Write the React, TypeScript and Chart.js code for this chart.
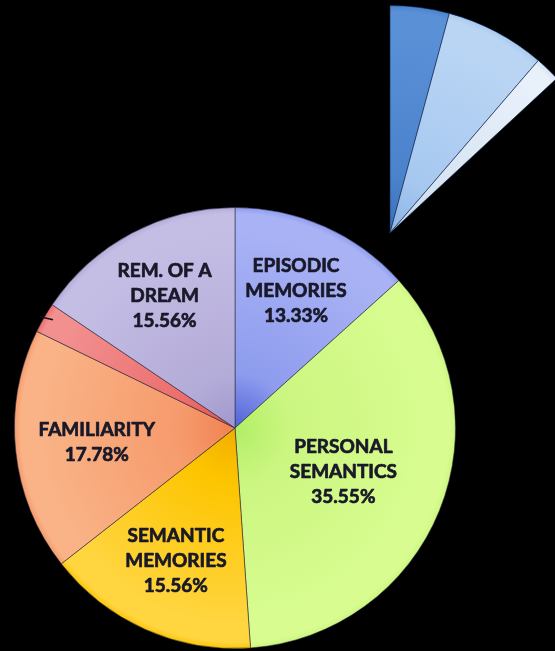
import React, { useEffect, useRef } from "react";
import { Chart, registerables } from "chart.js";

Chart.register(...registerables);

// ---- data ----
const categories = [
  "EPISODIC MEMORIES",
  "PERSONAL SEMANTICS",
  "SEMANTIC MEMORIES",
  "FAMILIARITY",
  "OTHER",
  "REM. OF A DREAM",
];
const shares = [13.33, 35.55, 15.56, 17.78, 2.22, 15.56];
const labelLines = [
  ["EPISODIC", "MEMORIES"],
  ["PERSONAL", "SEMANTICS"],
  ["SEMANTIC", "MEMORIES"],
  ["FAMILIARITY"],
  [],
  ["REM. OF A", "DREAM"],
];

const wedgeCategories = ["A", "B", "C", "REST"];
const wedgeShares = [4.2, 7.1, 1.8, 86.9];

// ---- styles ----
const mainPalette: string[][] = [
  ["#5062d8", "#8e9cee", "#a8b2f4"],
  ["#b2ee66", "#cbf680", "#d8fc90"],
  ["#f2ae00", "#fdc500", "#ffd540"],
  ["#f08250", "#f69a6c", "#f9b386"],
  ["#e25050", "#ec6c6c", "#f29090"],
  ["#a098cc", "#b4acd8", "#c4bde4"],
];
const wedgePalette: (string[] | null)[] = [
  ["#3a70ba", "#4a82cc", "#5a90d6"],
  ["#8db4e6", "#a6c8f0", "#bad5f4"],
  ["#bccfe8", "#d6e3f3", "#e8f0fa"],
  null,
];
const labelRadius = [0.68, 0.53, 0.66, 0.63, 0.65, 0.68];

function gradientFor(palette: (string[] | null)[]) {
  return (ctx: any) => {
    const chart = ctx.chart;
    const stops = palette[ctx.dataIndex];
    if (!stops) return "rgba(0,0,0,0)";
    const area = chart.chartArea;
    if (!area) return stops[1];
    const cx = (area.left + area.right) / 2;
    const cy = (area.top + area.bottom) / 2;
    const r = Math.min(area.right - area.left, area.bottom - area.top) / 2;
    const g = chart.ctx.createRadialGradient(cx, cy, 0, cx, cy, r);
    g.addColorStop(0, stops[0]);
    g.addColorStop(0.25, stops[1]);
    g.addColorStop(0.88, stops[2]);
    g.addColorStop(0.97, stops[2]);
    g.addColorStop(1, stops[1]);
    return g;
  };
}

const labelPlugin = {
  id: "sliceLabels",
  afterDatasetsDraw(chart: any) {
    const ctx = chart.ctx;
    const meta = chart.getDatasetMeta(0);
    ctx.save();
    ctx.font = "bold 19px Lato, 'DejaVu Sans', sans-serif";
    ctx.fillStyle = "#181828";
    ctx.strokeStyle = "#181828";
    ctx.lineWidth = 0.7;
    ctx.lineJoin = "round";
    ctx.textAlign = "center";
    ctx.textBaseline = "middle";
    meta.data.forEach((arc: any, i: number) => {
      const lines = labelLines[i];
      const mid = (arc.startAngle + arc.endAngle) / 2;
      if (!lines || lines.length === 0) {
        // leader tick at rim
        const rx = arc.x + Math.cos(mid) * arc.outerRadius;
        const ry = arc.y + Math.sin(mid) * arc.outerRadius;
        ctx.save();
        ctx.strokeStyle = "#111";
        ctx.lineWidth = 1.5;
        ctx.beginPath();
        ctx.moveTo(rx - 4, ry - 1);
        ctx.lineTo(rx + 9, ry + 2);
        ctx.stroke();
        ctx.restore();
        return;
      }
      const all = [...lines, shares[i].toFixed(2) + "%"];
      const fr = labelRadius[i];
      const px = arc.x + Math.cos(mid) * arc.outerRadius * fr;
      const py = arc.y + Math.sin(mid) * arc.outerRadius * fr;
      const lh = 25;
      const top = py - ((all.length - 1) * lh) / 2;
      all.forEach((t, k) => {
        ctx.strokeText(t, px, top + k * lh);
        ctx.fillText(t, px, top + k * lh);
      });
    });
    ctx.restore();
  },
};

function PieCanvas(props: {
  left: number;
  top: number;
  size: number;
  build: (c: HTMLCanvasElement) => Chart;
}) {
  const ref = useRef<HTMLCanvasElement | null>(null);
  useEffect(() => {
    if (!ref.current) return;
    const chart = props.build(ref.current);
    return () => chart.destroy();
  }, []);
  return (
    <div
      style={{
        position: "absolute",
        left: props.left,
        top: props.top,
        width: props.size,
        height: props.size,
      }}
    >
      <canvas
        ref={ref}
        width={props.size}
        height={props.size}
        style={{ width: props.size, height: props.size, display: "block" }}
      />
    </div>
  );
}

const commonOptions: any = {
  responsive: false,
  maintainAspectRatio: false,
  animation: false,
  events: [],
  layout: { padding: 0 },
  plugins: { legend: { display: false }, tooltip: { enabled: false } },
};

export default function App() {
  const buildMain = (c: HTMLCanvasElement) =>
    new Chart(c, {
      type: "pie",
      data: {
        labels: categories,
        datasets: [
          {
            data: shares,
            backgroundColor: gradientFor(mainPalette),
            borderColor: "rgba(40,40,60,0.55)",
            borderWidth: 1,
          },
        ],
      },
      options: commonOptions,
      plugins: [labelPlugin],
    });

  const buildWedge = (c: HTMLCanvasElement) =>
    new Chart(c, {
      type: "pie",
      data: {
        labels: wedgeCategories,
        datasets: [
          {
            data: wedgeShares,
            backgroundColor: gradientFor(wedgePalette),
            borderColor: ["rgba(20,40,80,0.6)", "rgba(20,40,80,0.6)", "rgba(20,40,80,0.6)", "rgba(0,0,0,0)"],
            borderWidth: [1, 1, 1, 0],
          },
        ],
      },
      options: commonOptions,
    });

  return (
    <div
      style={{
        position: "fixed",
        left: 0,
        top: 0,
        width: 555,
        height: 651,
        background: "#000",
        overflow: "hidden",
      }}
    >
      <PieCanvas left={14} top={207} size={442} build={buildMain} />
      <PieCanvas left={162} top={5} size={456} build={buildWedge} />
    </div>
  );
}
